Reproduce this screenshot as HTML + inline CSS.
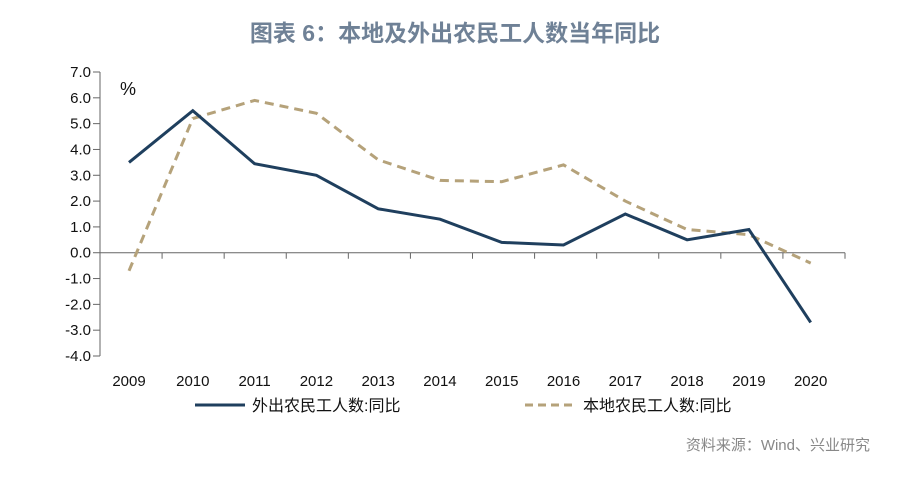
<!DOCTYPE html>
<html><head><meta charset="utf-8"><style>
body{margin:0;background:#fff;}
svg text{font-family:"Liberation Sans","Noto Sans CJK SC",sans-serif;}
</style></head><body>
<svg id="chart" width="900" height="480" xmlns="http://www.w3.org/2000/svg">
<text x="455" y="41" text-anchor="middle" font-size="23" font-weight="bold" fill="#6f8196">图表 6：本地及外出农民工人数当年同比</text>
<text x="120" y="95" font-size="18" fill="#111">%</text>
<g id="axes"></g><g id="series"></g>
<g>
<line x1="195" y1="405" x2="245" y2="405" stroke="#1f3f5e" stroke-width="3"/>
<text x="252" y="411" font-size="16" fill="#111">外出农民工人数:同比</text>
<line x1="525" y1="405" x2="575" y2="405" stroke="#b5a27a" stroke-width="3" stroke-dasharray="8,5"/>
<text x="583" y="411" font-size="16" fill="#111">本地农民工人数:同比</text>
</g>
<text x="870" y="450" text-anchor="end" font-size="15" fill="#888">资料来源：Wind、兴业研究</text>
</svg>
<script>
const categories=["2009","2010","2011","2012","2013","2014","2015","2016","2017","2018","2019","2020"];
const outbound=[3.5,5.5,3.45,3.0,1.7,1.3,0.4,0.3,1.5,0.5,0.9,-2.7];
const local=[-0.7,5.2,5.9,5.4,3.6,2.8,2.75,3.4,2.0,0.9,0.7,-0.4];
const yTicks=[7,6,5,4,3,2,1,0,-1,-2,-3,-4];
const NS="http://www.w3.org/2000/svg";
const x0=100,x1=845,yTop=72,yBot=356,vMax=7,vMin=-4;
const step=(x1-x0)/categories.length;
function xs(i){return x0+step*(i+0.5)+(i===0?-2:0)-i*0.3;}
function ys(v){return yTop+(vMax-v)/(vMax-vMin)*(yBot-yTop);}
function mk(tag,attrs,parent){const e=document.createElementNS(NS,tag);for(const k in attrs)e.setAttribute(k,attrs[k]);parent.appendChild(e);return e;}
const ax=document.getElementById('axes');
const ya=mk('line',{x1:x0,y1:yTop,x2:x0,y2:yBot,stroke:'#666','stroke-width':1},ax);


yTicks.forEach(v=>{
 const t=mk('line',{x1:x0-7,y1:ys(v),x2:x0,y2:ys(v),stroke:'#666'},ax);
 
 
 const l=mk('text',{x:x0-9,y:ys(v)+5,'text-anchor':'end','font-size':15,fill:'#111'},ax);
 l.textContent=v.toFixed(1);
 
 
});
const xa=mk('line',{x1:x0,y1:ys(0),x2:x1,y2:ys(0),stroke:'#666'},ax);


categories.forEach((c,i)=>{
 const tx=x0+step*(i+1);
 const t=mk('line',{x1:tx,y1:ys(0),x2:tx,y2:ys(0)+6,stroke:'#666'},ax);
 
 
 const l=mk('text',{x:xs(i),y:386,'text-anchor':'middle','font-size':15,fill:'#111'},ax);
 l.textContent=c;
 
 
});
const sg=document.getElementById('series');
function pts(a){return a.map((v,i)=>xs(i).toFixed(1)+','+ys(v).toFixed(1)).join(' ');}
const pl=mk('polyline',{points:pts(local),fill:'none',stroke:'#b5a27a','stroke-width':3,'stroke-dasharray':'9,6'},sg);


const po=mk('polyline',{points:pts(outbound),fill:'none',stroke:'#1f3f5e','stroke-width':3,'stroke-linejoin':'miter'},sg);


</script>
</body></html>
